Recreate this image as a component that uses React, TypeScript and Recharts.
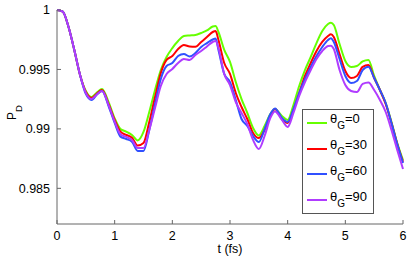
import { Legend, Line, LineChart, XAxis, YAxis } from 'recharts'

// time axis (fs) and detection probability for each gate angle
const times = [
  0, 0.1, 0.2, 0.3, 0.4, 0.5, 0.6, 0.7, 0.78, 0.9,
  1.0, 1.1, 1.2, 1.3, 1.4, 1.5, 1.6, 1.7, 1.8, 1.9,
  2.0, 2.1, 2.2, 2.3, 2.4, 2.5, 2.6, 2.7, 2.75, 2.8,
  2.9, 3.0, 3.1, 3.2, 3.3, 3.4, 3.5, 3.6, 3.7, 3.78,
  3.9, 4.0, 4.1, 4.2, 4.3, 4.4, 4.5, 4.6, 4.7, 4.75,
  4.8, 4.9, 5.0, 5.1, 5.2, 5.3, 5.4, 5.5, 5.6, 5.7,
  5.8, 5.9, 6.0,
]

const pd0 = [
  1, 0.99987, 0.99857, 0.99664, 0.99453, 0.99319, 0.99268, 0.9931, 0.99336, 0.99218,
  0.99089, 0.98999, 0.98977, 0.98949, 0.98903, 0.98974, 0.99142, 0.99327, 0.99495, 0.99605,
  0.9968, 0.99739, 0.99781, 0.99786, 0.9979, 0.99807, 0.99828, 0.99861, 0.99865, 0.99815,
  0.99664, 0.99563, 0.99394, 0.99251, 0.99134, 0.99008, 0.98945, 0.99024, 0.99125, 0.99167,
  0.99109, 0.99075, 0.99201, 0.99361, 0.99495, 0.99605, 0.99722, 0.99823, 0.99882, 0.99893,
  0.99874, 0.99714, 0.99571, 0.99521, 0.99529, 0.99567, 0.9958, 0.99445, 0.99327, 0.99218,
  0.99058, 0.98881, 0.98738,
]

const pd30 = [
  1, 0.99987, 0.99857, 0.99664, 0.99453, 0.9931, 0.9926, 0.99302, 0.99327, 0.99201,
  0.99075, 0.98977, 0.98949, 0.98926, 0.9886, 0.98881, 0.99058, 0.99268, 0.9947, 0.9958,
  0.99613, 0.99672, 0.99706, 0.99693, 0.99691, 0.99731, 0.99773, 0.99815, 0.99823, 0.99748,
  0.99554, 0.99462, 0.99302, 0.99184, 0.99083, 0.98966, 0.98924, 0.98991, 0.99109, 0.99167,
  0.99083, 0.9905, 0.99159, 0.99302, 0.99445, 0.99554, 0.99655, 0.99731, 0.99781, 0.99796,
  0.99773, 0.9963, 0.99487, 0.99428, 0.99445, 0.99521, 0.99537, 0.99428, 0.99327, 0.99209,
  0.9905, 0.98873, 0.98722,
]

const pd60 = [
  1, 0.99987, 0.99857, 0.99664, 0.99453, 0.99294, 0.99243, 0.99294, 0.99319, 0.99184,
  0.9905, 0.98935, 0.98915, 0.98892, 0.98814, 0.98814, 0.98991, 0.99209, 0.9942, 0.99529,
  0.99554, 0.99613, 0.9963, 0.99609, 0.99638, 0.99689, 0.99722, 0.99752, 0.9976, 0.99664,
  0.99462, 0.99394, 0.99243, 0.99083, 0.99024, 0.9894, 0.9889, 0.98999, 0.99125, 0.99172,
  0.99092, 0.99058, 0.99167, 0.99302, 0.9942, 0.99521, 0.99613, 0.99689, 0.99748, 0.99762,
  0.99731, 0.99588, 0.99445, 0.99386, 0.99403, 0.99495, 0.99523, 0.99428, 0.99327, 0.99218,
  0.9905, 0.98873, 0.98713,
]

const pd90 = [
  1, 0.99987, 0.99857, 0.99664, 0.99453, 0.99302, 0.99251, 0.99294, 0.99319, 0.99193,
  0.99061, 0.98955, 0.98932, 0.98907, 0.98839, 0.98839, 0.98991, 0.99176, 0.99361, 0.99462,
  0.99504, 0.99554, 0.99588, 0.9958, 0.99622, 0.99655, 0.99693, 0.99731, 0.99739, 0.9968,
  0.99462, 0.99369, 0.99226, 0.99134, 0.99041, 0.98907, 0.98831, 0.9894, 0.99092, 0.99146,
  0.99075, 0.99016, 0.99134, 0.99277, 0.99394, 0.99495, 0.99588, 0.99655, 0.99697, 0.997,
  0.99672, 0.99495, 0.99369, 0.99319, 0.9931, 0.99378, 0.9939, 0.99327, 0.99243, 0.99142,
  0.98991, 0.98823, 0.98663,
]

const angles = ['0', '30', '60', '90']
const seriesColors = ['#66ff00', '#ff0000', '#3050ff', '#b03cff']
const xTicks = [0, 1, 2, 3, 4, 5, 6]
const yTicks = [0.985, 0.99, 0.995, 1]

const allSeries = [pd0, pd30, pd60, pd90]
const rows = times.map((t, i) => {
  const row: Record<string, number> = { t }
  allSeries.forEach((s, k) => {
    row['th' + angles[k]] = s[i]
  })
  return row
})

const FONT = '"Liberation Sans", Arial, Helvetica, sans-serif'
const AXIS_COLOR = '#666'
const TICK_STYLE = { fontSize: 12.5, fill: '#000', fontFamily: FONT }

function YLabel(props: any) {
  const vb = props.viewBox || { x: 0, y: 0, width: 0, height: 0 }
  const x = vb.x + 15.5
  const y = vb.y + vb.height / 2 - 4.5
  return (
    <text
      x={x}
      y={y}
      transform={`rotate(-90, ${x}, ${y})`}
      textAnchor="middle"
      fontSize={12}
      fontFamily={FONT}
      fill="#000"
    >
      P
      <tspan dy={6} fontSize={9.5}>
        D
      </tspan>
    </text>
  )
}

function LegendBox(props: any) {
  const payload = props.payload || []
  return (
    <div
      style={{
        border: '1px solid #555',
        background: '#fff',
        width: 70,
        boxSizing: 'content-box',
        fontFamily: FONT,
      }}
    >
      {payload.map((entry: any) => (
        <div
          key={entry.value}
          style={{ height: 25.8, display: 'flex', alignItems: 'center' }}
        >
          <div
            style={{
              width: 20,
              height: 2,
              background: entry.color,
              marginLeft: 3.6,
              marginRight: 3.4,
            }}
          />
          <span
            style={{
              fontSize: 13,
              lineHeight: '13px',
              position: 'relative',
              top: -3.5,
              whiteSpace: 'nowrap',
              color: '#000',
            }}
          >
            θ
            <span style={{ fontSize: 10, position: 'relative', top: 6 }}>G</span>
            ={entry.value}
          </span>
        </div>
      ))}
    </div>
  )
}

export default function App() {
  return (
    <div style={{ position: 'absolute', left: 0, top: 0, background: '#fff' }}>
      <LineChart
        width={415}
        height={266}
        data={rows}
        margin={{ top: 10, right: 12, bottom: 10, left: 0 }}
        style={{ fontFamily: FONT }}
      >
        <XAxis
          dataKey="t"
          type="number"
          domain={[0, 6]}
          ticks={xTicks}
          height={32}
          tick={TICK_STYLE}
          tickSize={-4}
          tickMargin={11}
          stroke={AXIS_COLOR}
          label={{
            value: 't (fs)',
            position: 'insideBottom',
            offset: 3,
            fontSize: 12.5,
            fill: '#000',
            fontFamily: FONT,
          }}
        />
        <XAxis
          xAxisId="top"
          orientation="top"
          dataKey="t"
          type="number"
          domain={[0, 6]}
          ticks={xTicks}
          height={0}
          tickSize={-4}
          tickFormatter={() => ''}
          stroke={AXIS_COLOR}
        />
        <YAxis
          domain={[0.982, 1]}
          ticks={yTicks}
          width={57}
          tick={TICK_STYLE}
          tickSize={-4}
          tickMargin={11}
          tickFormatter={(v: number) => String(v)}
          stroke={AXIS_COLOR}
          label={<YLabel />}
        />
        <YAxis
          yAxisId="right"
          orientation="right"
          domain={[0.982, 1]}
          ticks={yTicks}
          width={0}
          tickSize={-4}
          tickFormatter={() => ''}
          stroke={AXIS_COLOR}
        />
        <Legend
          layout="vertical"
          align="center"
          verticalAlign="middle"
          wrapperStyle={{ left: 302, top: 109, width: 72 }}
          content={<LegendBox />}
        />
        {angles.map((a, k) => (
          <Line
            key={a}
            dataKey={'th' + a}
            name={a}
            type="monotone"
            stroke={seriesColors[k]}
            strokeWidth={2}
            dot={false}
            isAnimationActive={false}
          />
        ))}
      </LineChart>
    </div>
  )
}
